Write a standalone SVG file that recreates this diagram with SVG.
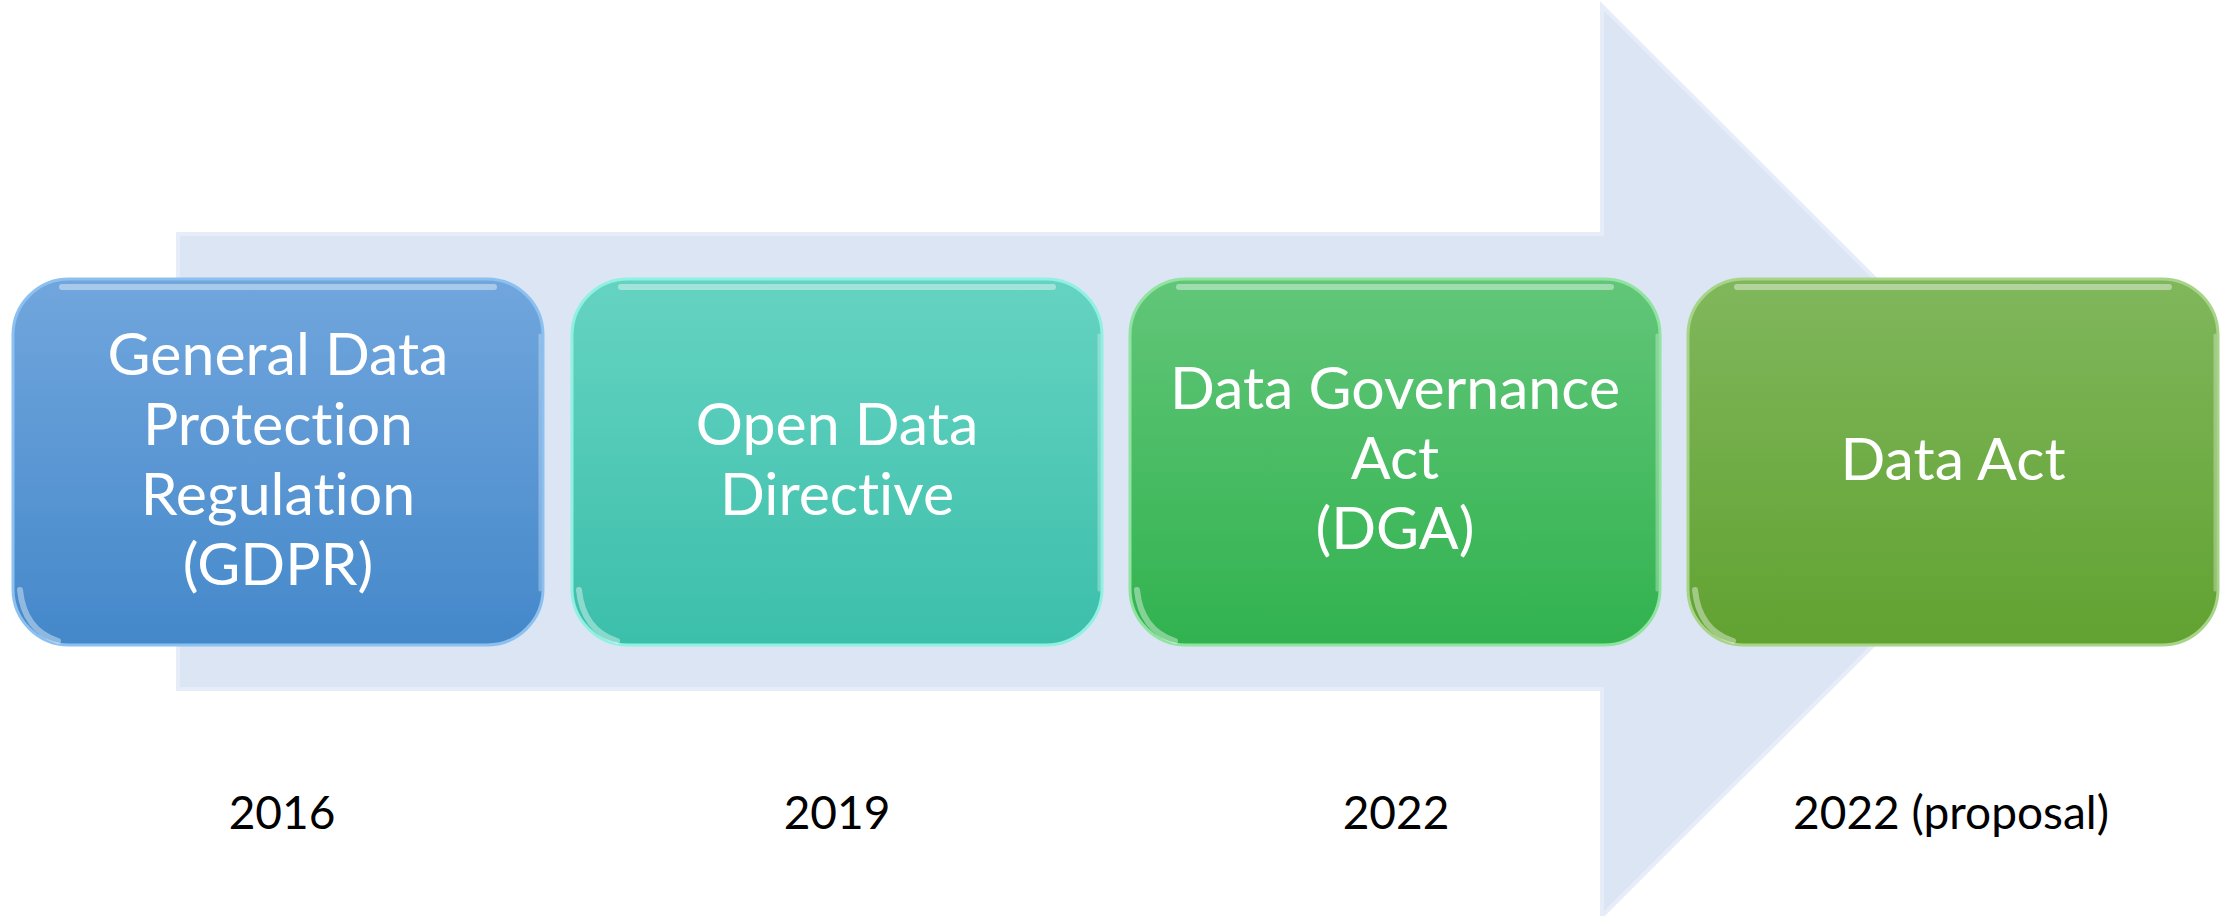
<svg xmlns="http://www.w3.org/2000/svg" width="2236" height="916" viewBox="0 0 2236 916">
<style>
.lbl{font-family:Lato,"Liberation Sans",sans-serif;font-size:59px;fill:#ffffff;text-anchor:middle;font-variant-ligatures:none;font-feature-settings:"liga" 0}
.yr{font-family:Lato,"Liberation Sans",sans-serif;font-size:46px;fill:#000000;text-anchor:middle;font-variant-ligatures:none}
.hl{fill:none;stroke:#ffffff;stroke-opacity:0.4;stroke-width:6;stroke-linecap:round}
.hr{fill:none;stroke:#ffffff;stroke-opacity:0.3;stroke-width:3;stroke-linecap:round}
</style>
<defs>
<linearGradient id="gBlue" x1="0" y1="0" x2="0" y2="1"><stop offset="0" stop-color="#71a6dd"/><stop offset="1" stop-color="#4488ca"/></linearGradient>
<linearGradient id="gTeal" x1="0" y1="0" x2="0" y2="1"><stop offset="0" stop-color="#66d3c2"/><stop offset="1" stop-color="#3bbfab"/></linearGradient>
<linearGradient id="gGreen" x1="0" y1="0" x2="0" y2="1"><stop offset="0" stop-color="#62c679"/><stop offset="1" stop-color="#31b24f"/></linearGradient>
<linearGradient id="gLime" x1="0" y1="0" x2="0" y2="1"><stop offset="0" stop-color="#80b75c"/><stop offset="1" stop-color="#61a231"/></linearGradient>
</defs>
<rect width="2236" height="916" fill="#ffffff"/>
<g id="arrow">
<path d="M178,234 L1602,234 L1602,6 L2058,461 L1602,916 L1602,689 L178,689 Z" fill="#dce5f3" stroke="#e6edf8" stroke-width="4" stroke-linejoin="miter"/>
</g>
<g id="node-gdpr">
<rect x="13" y="279" width="530" height="366" rx="56" fill="url(#gBlue)" stroke="#8cc0f0" stroke-width="3"/>
<path class="hl" d="M62,287 L494,287"/>
<path class="hl" d="M20,590 Q24,630 58,641"/>
<path class="hr" d="M540,335 L540,590"/>
<text class="lbl" x="278" y="375">General Data</text>
<text class="lbl" x="278" y="445">Protection</text>
<text class="lbl" x="278" y="515">Regulation</text>
<text class="lbl" x="278" y="585">(GDPR)</text>
</g>
<g id="node-odd">
<rect x="572" y="279" width="530" height="366" rx="56" fill="url(#gTeal)" stroke="#90f0e2" stroke-width="3"/>
<path class="hl" d="M621,287 L1053,287"/>
<path class="hl" d="M579,590 Q583,630 617,641"/>
<path class="hr" d="M1099,335 L1099,590"/>
<text class="lbl" x="837" y="445">Open Data</text>
<text class="lbl" x="837" y="515">Directive</text>
</g>
<g id="node-dga">
<rect x="1130" y="279" width="530" height="366" rx="56" fill="url(#gGreen)" stroke="#90e3a1" stroke-width="3"/>
<path class="hl" d="M1179,287 L1611,287"/>
<path class="hl" d="M1137,590 Q1141,630 1175,641"/>
<path class="hr" d="M1657,335 L1657,590"/>
<text class="lbl" x="1395" y="409">Data Governance</text>
<text class="lbl" x="1395" y="479">Act</text>
<text class="lbl" x="1395" y="549">(DGA)</text>
</g>
<g id="node-da">
<rect x="1688" y="279" width="530" height="366" rx="56" fill="url(#gLime)" stroke="#a8d48a" stroke-width="3"/>
<path class="hl" d="M1737,287 L2169,287"/>
<path class="hl" d="M1695,590 Q1699,630 1733,641"/>
<path class="hr" d="M2215,335 L2215,590"/>
<text class="lbl" x="1953" y="480">Data Act</text>
</g>
<g id="years">
<text class="yr" x="282" y="829">2016</text>
<text class="yr" x="837" y="829">2019</text>
<text class="yr" x="1396" y="829">2022</text>
<text class="yr" x="1951" y="829">2022 (proposal)</text>
</g>
</svg>
